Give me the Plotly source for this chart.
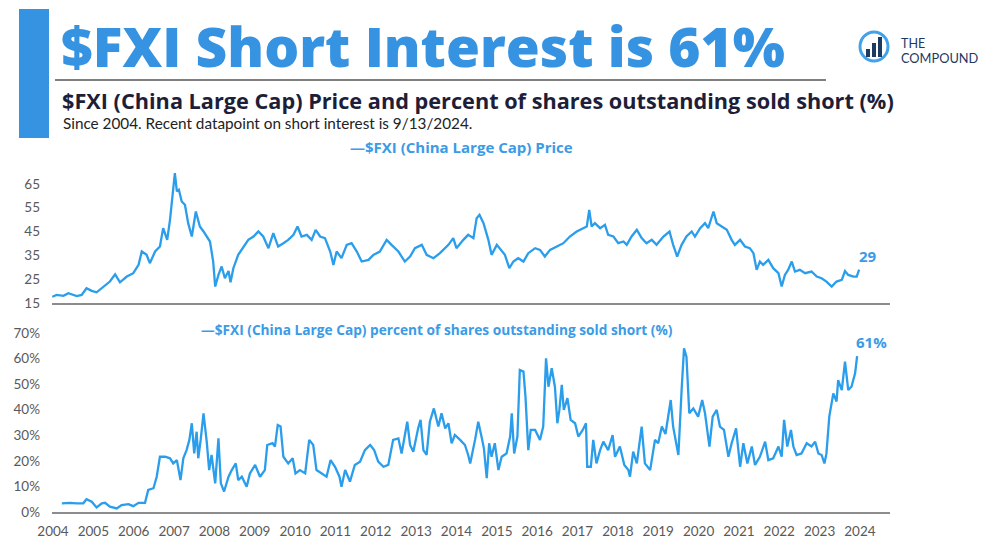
import plotly.graph_objects as go

# ---------------- DATA ----------------
price_year = [
    2003.98, 2004.09, 2004.26, 2004.38, 2004.59, 2004.71, 2004.83, 2004.96, 2005.08, 2005.25,
    2005.41, 2005.54, 2005.66, 2005.83, 2005.99, 2006.12, 2006.20, 2006.32, 2006.40, 2006.53,
    2006.65, 2006.73, 2006.83, 2006.90, 2006.95, 2007.02, 2007.07, 2007.12, 2007.19, 2007.27,
    2007.35, 2007.44, 2007.54, 2007.64, 2007.73, 2007.81, 2007.89, 2007.97, 2008.02, 2008.10,
    2008.18, 2008.26, 2008.35, 2008.40, 2008.47, 2008.59, 2008.72, 2008.84, 2008.97, 2009.09,
    2009.21, 2009.34, 2009.46, 2009.58, 2009.71, 2009.83, 2009.96, 2010.06, 2010.16, 2010.29,
    2010.41, 2010.51, 2010.62, 2010.74, 2010.87, 2010.95, 2011.03, 2011.15, 2011.28, 2011.40,
    2011.53, 2011.65, 2011.82, 2011.94, 2012.10, 2012.27, 2012.39, 2012.56, 2012.72, 2012.85,
    2012.97, 2013.14, 2013.26, 2013.43, 2013.59, 2013.80, 2013.92, 2014.00, 2014.17, 2014.29,
    2014.42, 2014.50, 2014.57, 2014.67, 2014.79, 2014.87, 2015.00, 2015.12, 2015.20, 2015.31,
    2015.41, 2015.53, 2015.66, 2015.78, 2015.95, 2016.07, 2016.19, 2016.32, 2016.48, 2016.65,
    2016.81, 2016.98, 2017.14, 2017.23, 2017.29, 2017.35, 2017.43, 2017.56, 2017.68, 2017.76,
    2017.89, 2018.01, 2018.14, 2018.22, 2018.34, 2018.47, 2018.59, 2018.71, 2018.84, 2018.96,
    2019.13, 2019.28, 2019.37, 2019.47, 2019.58, 2019.70, 2019.83, 2019.91, 2020.04, 2020.16,
    2020.24, 2020.37, 2020.45, 2020.57, 2020.70, 2020.82, 2020.90, 2021.03, 2021.15, 2021.27,
    2021.36, 2021.44, 2021.52, 2021.60, 2021.73, 2021.85, 2021.98, 2022.06, 2022.14, 2022.22,
    2022.31, 2022.39, 2022.51, 2022.64, 2022.80, 2022.93, 2023.05, 2023.17, 2023.30, 2023.42,
    2023.55, 2023.63, 2023.71, 2023.84, 2023.92, 2023.98,
]
price_val = [
    17.6, 18.4, 18.0, 19.1, 17.9, 18.4, 21.2, 20.1, 19.5, 21.9,
    24.0, 27.0, 23.7, 26.1, 27.5, 31.0, 36.6, 35.2, 31.7, 36.6,
    38.7, 46.4, 41.5, 49.9, 59.0, 69.5, 61.8, 62.5, 57.6, 56.2,
    48.5, 42.9, 53.4, 47.1, 45.0, 42.9, 40.8, 32.4, 21.9, 26.8,
    30.3, 25.4, 28.4, 23.7, 29.6, 35.2, 38.7, 41.5, 42.9, 45.0,
    42.9, 38.0, 44.3, 38.7, 40.1, 41.5, 43.6, 47.1, 42.9, 43.6,
    41.5, 45.7, 42.9, 42.2, 36.6, 31.0, 36.6, 33.8, 39.4, 40.1,
    36.6, 32.4, 33.1, 35.2, 36.6, 41.5, 39.4, 36.6, 32.4, 34.5,
    38.0, 39.4, 35.2, 33.8, 35.9, 39.4, 42.2, 38.0, 41.5, 43.6,
    42.2, 50.6, 52.0, 48.5, 41.5, 35.2, 39.4, 36.6, 35.2, 29.6,
    32.4, 33.8, 32.4, 35.9, 38.0, 37.3, 34.5, 37.3, 38.7, 40.1,
    42.9, 45.0, 46.4, 47.1, 54.1, 47.1, 48.5, 46.4, 47.8, 43.6,
    42.9, 40.1, 40.8, 39.4, 42.9, 45.7, 42.2, 40.1, 41.5, 39.4,
    42.9, 45.0, 39.4, 34.5, 39.4, 42.9, 45.0, 42.9, 46.4, 48.5,
    46.4, 53.4, 48.5, 47.1, 45.7, 41.5, 39.4, 41.5, 38.7, 38.0,
    35.9, 28.9, 32.4, 31.0, 33.1, 29.6, 27.5, 21.9, 26.8, 28.9,
    32.4, 28.2, 28.9, 27.5, 28.2, 26.1, 25.4, 24.0, 21.9, 24.0,
    24.7, 28.4, 26.8, 26.1, 26.1, 29.0,
]

short_year = [
    2004.22, 2004.42, 2004.59, 2004.75, 2004.83, 2004.96, 2005.08, 2005.21, 2005.29, 2005.41,
    2005.58, 2005.70, 2005.87, 2005.99, 2006.12, 2006.28, 2006.36, 2006.49, 2006.57, 2006.65,
    2006.78, 2006.90, 2006.98, 2007.07, 2007.16, 2007.23, 2007.31, 2007.38, 2007.44, 2007.50,
    2007.56, 2007.60, 2007.66, 2007.73, 2007.81, 2007.87, 2007.93, 2008.02, 2008.10, 2008.16,
    2008.24, 2008.35, 2008.43, 2008.53, 2008.59, 2008.68, 2008.80, 2008.88, 2009.01, 2009.13,
    2009.25, 2009.31, 2009.44, 2009.50, 2009.57, 2009.64, 2009.71, 2009.83, 2009.94, 2010.01,
    2010.12, 2010.25, 2010.35, 2010.45, 2010.53, 2010.66, 2010.78, 2010.88, 2010.99, 2011.10,
    2011.15, 2011.24, 2011.36, 2011.48, 2011.61, 2011.73, 2011.86, 2011.96, 2012.06, 2012.19,
    2012.31, 2012.43, 2012.56, 2012.64, 2012.78, 2012.85, 2012.93, 2013.05, 2013.11, 2013.18,
    2013.26, 2013.34, 2013.44, 2013.55, 2013.63, 2013.72, 2013.80, 2013.88, 2013.96, 2014.09,
    2014.21, 2014.29,
    2014.34, 2014.46, 2014.54, 2014.62, 2014.68, 2014.75, 2014.81, 2014.87, 2014.95, 2015.04,
    2015.12, 2015.24, 2015.33, 2015.37, 2015.43, 2015.51, 2015.57, 2015.66, 2015.71, 2015.78,
    2015.84, 2015.95, 2016.07, 2016.15, 2016.22, 2016.28, 2016.36, 2016.44, 2016.50, 2016.55,
    2016.61, 2016.66, 2016.75, 2016.83, 2016.94, 2017.02, 2017.13, 2017.21, 2017.24, 2017.33,
    2017.39, 2017.47, 2017.56, 2017.64, 2017.76, 2017.87, 2017.93, 2018.05, 2018.16, 2018.26,
    2018.30, 2018.38, 2018.47, 2018.59, 2018.67, 2018.80, 2018.92, 2019.00, 2019.09, 2019.18,
    2019.25, 2019.31, 2019.37, 2019.50, 2019.58, 2019.64, 2019.70, 2019.77, 2019.87, 2019.99,
    2020.09, 2020.16, 2020.27, 2020.35, 2020.45, 2020.53, 2020.63, 2020.74, 2020.82, 2020.93,
    2021.03, 2021.11, 2021.21, 2021.32, 2021.40, 2021.52, 2021.65, 2021.73, 2021.85, 2021.98,
    2022.06, 2022.12, 2022.20, 2022.29, 2022.35, 2022.43, 2022.55, 2022.68, 2022.80, 2022.89,
    2022.97, 2023.05, 2023.12, 2023.17, 2023.24, 2023.34, 2023.42, 2023.46, 2023.55, 2023.63,
    2023.71, 2023.79, 2023.88, 2023.93,
]
short_pct = [
    3.4, 3.6, 3.4, 3.4, 5.0, 4.0, 1.8, 3.4, 3.6, 2.1,
    1.4, 2.7, 3.1, 2.3, 3.6, 3.6, 8.6, 9.3, 13.8, 21.6,
    21.6, 21.0, 19.0, 20.3, 12.5, 21.0, 24.2, 28.2, 34.7, 22.9,
    31.4, 21.0, 28.2, 38.6, 27.5, 16.4, 22.3, 11.2, 28.8, 11.2,
    8.0, 13.8, 16.4, 19.0, 12.5, 13.8, 9.9, 15.1, 18.4, 13.8,
    16.4, 26.2, 26.9, 25.6, 34.0, 33.4, 21.6, 19.0, 21.0, 15.1,
    16.4, 15.1, 28.2, 26.2, 16.4, 15.1, 13.8, 20.3, 17.7, 13.8,
    9.9, 16.4, 11.9, 18.4, 19.7, 24.2, 26.2, 24.2, 19.7, 17.7,
    18.4, 28.2, 28.8, 22.9, 35.3, 26.2, 23.6, 32.7, 36.0, 24.2,
    22.3, 35.3, 40.5, 33.4, 38.6, 32.7, 34.7, 26.9, 30.1, 28.2,
    26.2, 22.3,
    19.0, 28.2, 35.3, 29.5, 24.9, 13.2, 26.9, 21.6, 26.9, 16.4,
    21.6, 22.9, 29.5, 38.6, 22.9, 29.5, 55.5, 54.9, 45.1, 24.2,
    32.1, 32.1, 28.2, 33.4, 60.1, 49.0, 56.2, 49.0, 34.7, 39.9,
    49.7, 39.9, 44.5, 36.0, 34.7, 29.5, 32.1, 34.7, 17.7, 17.7,
    28.2, 19.0, 24.2, 27.5, 24.2, 30.1, 21.6, 25.6, 18.4, 16.4,
    13.8, 23.6, 19.0, 33.4, 19.0, 16.4, 28.2, 26.9, 33.4, 30.5,
    37.3, 43.8, 33.4, 22.3, 47.7, 64.0, 60.7, 38.6, 40.5, 37.3,
    43.8, 38.6, 25.6, 37.3, 39.9, 33.4, 32.1, 21.6, 26.9, 32.7,
    17.7, 26.9, 19.0, 25.6, 18.4, 21.6, 27.5, 20.3, 21.0, 25.6,
    21.6, 36.0, 25.6, 32.1, 25.6, 22.3, 22.9, 26.9, 25.6, 27.5,
    22.9, 22.3, 19.0, 22.9, 37.3, 46.4, 43.2, 51.6, 47.7, 58.8,
    47.7, 49.0, 54.2, 61.0,
]

year_ticks = list(range(2004, 2025))
year_labels = [str(y) for y in year_ticks]
price_ticks = [15, 25, 35, 45, 55, 65]
pct_ticks = [0, 10, 20, 30, 40, 50, 60, 70]
pct_labels = [f"{v}%" for v in pct_ticks]

TITLE = "$FXI Short Interest is 61%"
SUBTITLE = "$FXI (China Large Cap) Price and percent of shares outstanding sold short (%)"
NOTE = "Since 2004. Recent datapoint on short interest is 9/13/2024."
LEG1 = "—$FXI (China Large Cap) Price"
LEG2 = "—$FXI (China Large Cap) percent of shares outstanding sold short (%)"

# ---------------- STYLE ----------------
W, H = 985, 550
BLUE = "#2A9DEB"
TITLE_BLUE = "#3593E1"
NAVY = "#1E1E38"
GRAY = "#595959"
FONT = "Lato"
HEAVY = "Open Sans"


def px(x):
    return x / W


def py(y):
    return 1 - y / H


fig = go.Figure()
fig.add_trace(go.Scatter(x=price_year, y=price_val, mode="lines",
                         line=dict(color=BLUE, width=2.3), xaxis="x", yaxis="y",
                         hoverinfo="skip", showlegend=False))
fig.add_trace(go.Scatter(x=short_year, y=short_pct, mode="lines",
                         line=dict(color=BLUE, width=2.3), xaxis="x2", yaxis="y2",
                         hoverinfo="skip", showlegend=False))

xr = [2003.975, 2024.745]
axis_common = dict(showgrid=False, zeroline=False, automargin=False)
fig.update_layout(
    width=W, height=H, margin=dict(l=0, r=0, t=0, b=0, pad=0, autoexpand=False),
    paper_bgcolor="white", plot_bgcolor="white",
    font=dict(family=FONT, color=GRAY),
    xaxis=dict(domain=[px(52), px(890)], range=xr, anchor="y", showticklabels=False,
               showline=True, linecolor="#8c8c8c", linewidth=1.5, ticks="", **axis_common),
    yaxis=dict(domain=[py(303), py(160)], range=[15, 75], tickvals=price_ticks,
               ticks="", showline=False, tickfont=dict(size=13.5, color=GRAY),
               ticklabelstandoff=11, **axis_common),
    xaxis2=dict(domain=[px(52), px(890)], range=xr, anchor="y2", tickvals=year_ticks,
                ticktext=year_labels, ticks="", showline=True, linecolor="#8c8c8c",
                linewidth=1.5, tickfont=dict(size=13.5, color=GRAY), ticklabelstandoff=6,
                **axis_common),
    yaxis2=dict(domain=[py(512), py(333)], range=[0, 70], tickvals=pct_ticks,
                ticktext=pct_labels, ticks="", showline=False,
                tickfont=dict(size=13.5, color=GRAY), ticklabelstandoff=11, **axis_common),
)

shapes = [
    # left accent bar
    dict(type="rect", xref="paper", yref="paper", x0=px(19), x1=px(49), y0=py(138), y1=py(9),
         fillcolor=TITLE_BLUE, line=dict(width=0)),
    # title rule
    dict(type="line", xref="paper", yref="paper", x0=px(55), x1=px(826), y0=py(80), y1=py(80),
         line=dict(color="#7f7f7f", width=2)),
    # logo ring
    dict(type="circle", xref="paper", yref="paper", x0=px(860), x1=px(888), y0=py(61), y1=py(32),
         line=dict(color="#3FA2EA", width=3)),
    # logo bars
    dict(type="rect", xref="paper", yref="paper", x0=px(866), x1=px(870), y0=py(57), y1=py(49),
         fillcolor="#1D3A60", line=dict(width=0)),
    dict(type="rect", xref="paper", yref="paper", x0=px(872), x1=px(876), y0=py(57), y1=py(43),
         fillcolor="#1D3A60", line=dict(width=0)),
    dict(type="rect", xref="paper", yref="paper", x0=px(878), x1=px(882), y0=py(57), y1=py(37),
         fillcolor="#1D3A60", line=dict(width=0)),
]
fig.update_layout(shapes=shapes)

ann = [
    dict(text=TITLE, x=px(59), y=py(46), xanchor="left", yanchor="middle",
         font=dict(family=HEAVY, size=55, color=TITLE_BLUE, weight=800)),
    dict(text=f"<b>{SUBTITLE}</b>", x=px(60), y=py(100.5), xanchor="left", yanchor="middle",
         font=dict(family=HEAVY, size=21.7, color=NAVY)),
    dict(text=NOTE, x=px(61), y=py(123), xanchor="left", yanchor="middle",
         font=dict(family=FONT, size=15.3, color="#222222")),
    dict(text="THE", x=px(899), y=py(44), xanchor="left", yanchor="middle",
         font=dict(family=FONT, size=12.5, color="#24385F")),
    dict(text="COMPOUND", x=px(899), y=py(58.5), xanchor="left", yanchor="middle",
         font=dict(family=FONT, size=12.8, color="#24385F")),
    dict(text=f"<b>{LEG1}</b>", x=px(461), y=py(147), xanchor="center", yanchor="middle",
         font=dict(family=HEAVY, size=15, color="#3A9BE6")),
    dict(text=f"<b>{LEG2}</b>", x=px(437), y=py(329), xanchor="center", yanchor="middle",
         font=dict(family=HEAVY, size=13.7, color="#3A9BE6")),
    dict(text=f"<b>{price_val[-1]:.0f}</b>", x=price_year[-1], y=price_val[-1], xref="x", yref="y",
         xanchor="left", yanchor="bottom", xshift=-2, yshift=2, showarrow=False,
         font=dict(family=HEAVY, size=15, color="#3A9BE6")),
    dict(text=f"<b>{short_pct[-1]:.0f}%</b>", x=short_year[-1], y=short_pct[-1], xref="x2", yref="y2",
         xanchor="left", yanchor="bottom", xshift=-3, yshift=2, showarrow=False,
         font=dict(family=HEAVY, size=15, color="#3A9BE6")),
]
for a in ann:
    a.setdefault("xref", "paper")
    a.setdefault("yref", "paper")
    a.setdefault("showarrow", False)
fig.update_layout(annotations=ann)

fig.write_html("out.html", config={"displayModeBar": False},
               post_script="document.body.style.margin='0';")
